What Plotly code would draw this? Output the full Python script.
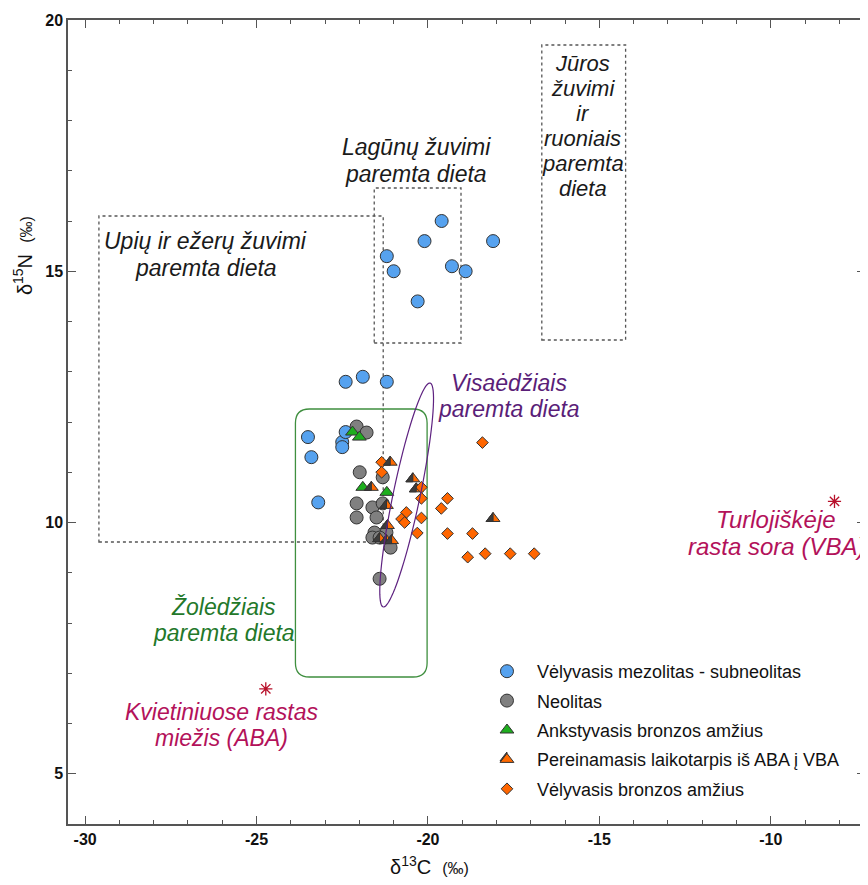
import numpy as np
import plotly.graph_objects as go

# ---------------- data ----------------
meso_x = [-21.2, -21.0, -20.1, -19.6, -19.3, -18.9, -18.1, -20.3,
          -22.4, -21.9, -21.2, -23.5, -23.4, -23.2, -22.5, -22.5, -22.4]
meso_y = [15.3, 15.0, 15.6, 16.0, 15.1, 15.0, 15.6, 14.4,
          12.8, 12.9, 12.8, 11.7, 11.3, 10.4, 11.6, 11.5, 11.8]

neo_x = [-22.08, -21.79, -21.99, -21.32, -22.08, -21.62, -22.08, -21.50,
         -21.56, -21.62, -21.09, -21.41, -21.32, -21.21, -21.41]
neo_y = [11.91, 11.79, 11.0, 10.9, 10.38, 10.30, 10.10, 10.10,
         9.80, 9.70, 9.50, 8.88, 10.38, 9.80, 9.70]

eba_x = [-22.2, -22.0, -21.9, -21.2]
eba_y = [11.8, 11.7, 10.7, 10.6]

trans_x = [-21.1, -21.65, -20.44, -20.34, -18.1, -21.21, -21.18, -21.21, -21.06, -21.41]
trans_y = [11.2, 10.7, 10.87, 10.67, 10.08, 10.34, 9.94, 9.64, 9.64, 9.68]

lba_x = [-21.35, -21.35, -20.63, -20.77, -20.68, -20.19, -20.19, -20.19, -20.31,
         -19.43, -19.61, -19.43, -18.70, -18.84, -18.33, -17.60, -16.90, -18.41]
lba_y = [11.2, 11.0, 10.2, 10.07, 10.0, 10.7, 10.48, 10.09, 9.79,
         10.48, 10.28, 9.78, 9.78, 9.31, 9.38, 9.38, 9.38, 11.59]

plant_x = [-8.14, -24.73]
plant_y = [10.42, 6.69]

series_names = ["Vėlyvasis mezolitas - subneolitas", "Neolitas",
                "Ankstyvasis bronzos amžius", "Pereinamasis laikotarpis iš ABA į VBA",
                "Vėlyvasis bronzos amžius"]

x_ticks = [-30, -25, -20, -15, -10]
y_ticks = [5, 10, 15, 20]

# ---------------- geometry helpers ----------------
OFF = 8                      # page body margin
W, H = 860, 877
L, R, T, B = 60, 1, 12, 61
xr = [-30.5, -7.25]
yr = [4, 20]
pw = W - L - R
ph = H - T - B
PL, PT = OFF + L, OFF + T    # plot-area origin in page pixels
PB = PT + ph
sx = pw / (xr[1] - xr[0])
sy = ph / (yr[1] - yr[0])


def px2d(px, py):
    return xr[0] + (px - PL) / sx, yr[1] - (py - PT) / sy


def px2paper(px, py):
    return (px - PL) / pw, (PB - py) / ph


FONT = "Liberation Sans, Arial, sans-serif"
fig = go.Figure()

outline = dict(color="#333333", width=1)
fig.add_trace(go.Scatter(x=meso_x, y=meso_y, mode="markers", name=series_names[0],
                         legendgroup="a",
                         marker=dict(symbol="circle", size=13, color="#56a2ef", line=outline)))
fig.add_trace(go.Scatter(x=neo_x, y=neo_y, mode="markers", name=series_names[1],
                         legendgroup="b",
                         marker=dict(symbol="circle", size=13, color="#808080", line=outline)))
fig.add_trace(go.Scatter(x=eba_x, y=eba_y, mode="markers", name=series_names[2],
                         legendgroup="c",
                         marker=dict(symbol="triangle-up", size=12, color="#1eae1e", line=outline)))
fig.add_trace(go.Scatter(x=trans_x, y=trans_y, mode="markers", name=series_names[3],
                         legendgroup="d",
                         marker=dict(symbol="triangle-up", size=12, color="#ff6a00", line=outline)))
fig.add_trace(go.Scatter(x=lba_x, y=lba_y, mode="markers", name=series_names[4],
                         legendgroup="e",
                         marker=dict(symbol="diamond", size=9, color="#ff6600", line=outline)))
fig.add_trace(go.Scatter(x=plant_x, y=plant_y, mode="markers", showlegend=False,
                         marker=dict(symbol="asterisk-open", size=11, color="#b8102a",
                                     line=dict(color="#b8102a", width=1.3))))

# dark left half of the transition-period triangles
r = 6.0
rt = r * 2 / np.sqrt(3)
half_path = f"M {-rt:.2f},{-r/2:.2f} L 0,{-r/2:.2f} L 0,{r:.2f} Z"
for xv, yv in zip(trans_x, trans_y):
    fig.add_shape(type="path", xref="x", yref="y", xsizemode="pixel", ysizemode="pixel",
                  xanchor=xv, yanchor=yv, path=half_path,
                  fillcolor="#3c3c3c", line=dict(color="#333333", width=1), layer="above")

# dotted diet boxes
box_line = dict(color="#555555", width=1.3, dash="dot")
for (p0, p1) in [((99, 216), (384, 542)), ((375, 188), (462, 343)), ((543, 45), (627, 340))]:
    x0, y0 = px2d(*p0)
    x1, y1 = px2d(*p1)
    fig.add_shape(type="rect", x0=x0, y0=y1, x1=x1, y1=y0, line=box_line, layer="below")

# green rounded rectangle (herbivore)
gx0, gy1 = px2d(296, 409)
gx1, gy0 = px2d(428, 677)
rx, ry = 14 / sx, 14 / sy
gpath = (f"M {gx0+rx},{gy1} L {gx1-rx},{gy1} Q {gx1},{gy1} {gx1},{gy1-ry} "
         f"L {gx1},{gy0+ry} Q {gx1},{gy0} {gx1-rx},{gy0} "
         f"L {gx0+rx},{gy0} Q {gx0},{gy0} {gx0},{gy0+ry} "
         f"L {gx0},{gy1-ry} Q {gx0},{gy1} {gx0+rx},{gy1} Z")
fig.add_shape(type="path", path=gpath, line=dict(color="#3f8f3f", width=1.3), layer="below")

# purple tilted ellipse (omnivore)
cxp, cyp = 407.5, 495.0
a_px, b_px = 114.4, 13.5
u = np.array([0.2053, -0.9786])
v = np.array([0.9786, 0.2053])
t = np.linspace(0, 2 * np.pi, 90)
pts = [px2d(cxp + a_px * np.cos(tt) * u[0] + b_px * np.sin(tt) * v[0],
            cyp + a_px * np.cos(tt) * u[1] + b_px * np.sin(tt) * v[1]) for tt in t]
epath = "M " + " L ".join(f"{p[0]:.4f},{p[1]:.4f}" for p in pts) + " Z"
fig.add_shape(type="path", path=epath, line=dict(color="#5e2280", width=1.2), layer="above")


def label(lines, cx, ys, color, size=23):
    for txt, yy in zip(lines, ys):
        xp, yp = px2paper(cx, yy)
        fig.add_annotation(x=xp, y=yp, xref="paper", yref="paper", text=txt, showarrow=False,
                           xanchor="center", yanchor="middle",
                           font=dict(family=FONT, size=size, color=color, style="italic"))


label(["Upių ir ežerų žuvimi", "paremta dieta"], 206, [241, 268], "#1a1a1a")
label(["Lagūnų žuvimi", "paremta dieta"], 417, [147, 174], "#1a1a1a")
label(["Jūros", "žuvimi", "ir", "ruoniais", "paremta", "dieta"], 584,
      [64, 89, 114, 139, 164, 189], "#1a1a1a", size=22)
label(["Visaėdžiais", "paremta dieta"], 510, [383, 409], "#5a1e78")
label(["Žolėdžiais", "paremta dieta"], 224, [607, 633], "#23782a")
label(["Turlojiškėje", "rasta sora (VBA)"], 778, [520, 546], "#b3125a", size=24)
label(["Kvietiniuose rastas", "miežis (ABA)"], 222, [712, 738], "#b3125a")

# axis titles
xp, yp = px2paper(430, 865)
fig.add_annotation(x=xp, y=yp, xref="paper", yref="paper", showarrow=False,
                   text="δ<sup>13</sup>C  <span style='font-size:16px'>(‰)</span>",
                   font=dict(family=FONT, size=20, color="#111"), xanchor="center", yanchor="middle")
xp, yp = px2paper(22, 256)
fig.add_annotation(x=xp, y=yp, xref="paper", yref="paper", showarrow=False, textangle=-90,
                   text="δ<sup>15</sup>N  <span style='font-size:16px'>(‰)</span>",
                   font=dict(family=FONT, size=20, color="#111"), xanchor="center", yanchor="middle")

axis_common = dict(showline=True, linecolor="#555555", linewidth=1.5, mirror="ticks",
                   ticks="inside", ticklen=8, tickwidth=1.2, tickcolor="#555555",
                   showgrid=False, zeroline=False,
                   tickfont=dict(family=FONT, size=16, color="#111", weight="bold"))
fig.update_xaxes(range=xr, tickvals=x_ticks, ticktext=[str(v_) for v_ in x_ticks],
                 minor=dict(dtick=1, tick0=-30, ticks="inside", ticklen=4, tickcolor="#555555",
                            showgrid=False),
                 **axis_common)
fig.update_yaxes(range=yr, tickvals=y_ticks, ticktext=[str(v_) for v_ in y_ticks],
                 minor=dict(dtick=1, tick0=0, ticks="inside", ticklen=4, tickcolor="#555555",
                            showgrid=False),
                 **axis_common)

# legend
lx, ly = px2paper(478, 653)
fig.update_layout(
    width=W, height=H,
    margin=dict(l=L, r=R, t=T, b=B, pad=0),
    plot_bgcolor="white", paper_bgcolor="white",
    font=dict(family=FONT, color="#111"),
    legend=dict(x=lx, y=ly, xanchor="left", yanchor="top", bgcolor="rgba(0,0,0,0)",
                font=dict(family=FONT, size=18, color="#111"),
                traceorder="grouped", tracegroupgap=3, itemwidth=50),
)

# dark half for the legend symbol of the transition period
lsx, lsy = px2paper(508, 758)
fig.add_shape(type="path", xref="paper", yref="paper", xsizemode="pixel", ysizemode="pixel",
              xanchor=lsx, yanchor=lsy, path=half_path,
              fillcolor="#3c3c3c", line=dict(color="#333333", width=1), layer="above")

fig.write_html("out.html")
